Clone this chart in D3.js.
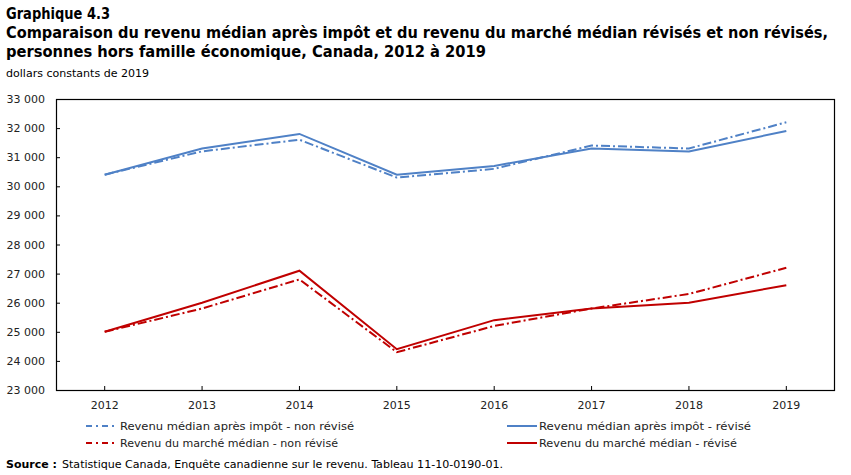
<!DOCTYPE html>
<html><head><meta charset="utf-8">
<script src="https://cdn.jsdelivr.net/npm/d3@7"></script>
<style>
body{margin:0;background:#fff;}
svg{display:block;font-family:"DejaVu Sans",Verdana,sans-serif;}
</style></head>
<body><svg id="c" width="851" height="475"></svg>
<script>
const years = ["2012","2013","2014","2015","2016","2017","2018","2019"];
const apresImpotNonRevise = [30400,31200,31600,30300,30600,31400,31300,32200];
const apresImpotRevise    = [30400,31300,31800,30400,30700,31300,31200,31900];
const marcheNonRevise     = [25000,25800,26800,24300,25200,25800,26300,27200];
const marcheRevise        = [25000,26000,27100,24400,25400,25800,26000,26600];
const yTicks = [23000,24000,25000,26000,27000,28000,29000,30000,31000,32000,33000];
const seriesNames = [
  "Revenu médian après impôt  - non révisé",
  "Revenu médian après impôt  - révisé",
  "Revenu du marché médian - non révisé",
  "Revenu du marché médian - révisé"
];
const titleLines = [
  "Graphique 4.3",
  "Comparaison du revenu médian après impôt et du revenu du marché médian révisés et non révisés,",
  "personnes hors famille économique, Canada, 2012 à 2019"
];
const unitLabel = "dollars constants de 2019";
const sourceText = "Statistique Canada, Enquête canadienne sur le revenu. Tableau 11-10-0190-01.";

const BLUE = "#4f81c6", RED = "#c00000", DASH = "9,3,2,3";
const series = [
  {name: seriesNames[0], values: apresImpotNonRevise, color: BLUE, dash: DASH},
  {name: seriesNames[1], values: apresImpotRevise, color: BLUE, dash: null},
  {name: seriesNames[2], values: marcheNonRevise, color: RED, dash: DASH},
  {name: seriesNames[3], values: marcheRevise, color: RED, dash: null}
];

const svg = d3.select("#c");
const L = 56, R = 835, T = 99, B = 390;
const x = d3.scaleBand().domain(years).range([L, R]);
const y = d3.scaleLinear().domain([23000, 33000]).range([B, T]);
const fmt = d => d3.format(",")(d).replace(/,/g, "\u00a0");

// titles
const tg = svg.append("g").attr("font-family", "'DejaVu Sans Condensed','DejaVu Sans',sans-serif")
  .attr("font-weight", "bold").attr("font-size", 15).attr("fill", "#000");
const tw = [104, 822, 480];
titleLines.forEach((t, i) => {
  const el = tg.append("text").attr("x", 6).attr("y", 19 + i * 19).text(t);
  if (tw[i]) el.attr("textLength", tw[i]).attr("lengthAdjust", "spacingAndGlyphs");
});
svg.append("text").attr("x", 6).attr("y", 77).attr("font-size", 10.5)
  .attr("font-family", "'DejaVu Sans Condensed','DejaVu Sans',sans-serif")
  .attr("textLength", 143).attr("lengthAdjust", "spacingAndGlyphs").text(unitLabel);

// axes
const yAxis = d3.axisLeft(y).tickValues(yTicks).tickFormat(fmt).tickSize(-4).tickPadding(11);
const gy = svg.append("g").attr("transform", `translate(${L},0)`).call(yAxis);
const xAxis = d3.axisBottom(x).tickSize(-4).tickPadding(11);
const gx = svg.append("g").attr("transform", `translate(0,${B})`).call(xAxis);
[gy, gx].forEach(g => {
  g.selectAll("text").attr("font-size", 11).attr("fill", "#222").attr("font-family", "'DejaVu Sans',Verdana,sans-serif");
  g.selectAll("line").attr("stroke", "#000");
  g.select(".domain").remove();
});
svg.append("rect").attr("x", L + 0.5).attr("y", T + 0.5).attr("width", R - L - 1).attr("height", B - T)
  .attr("fill", "none").attr("stroke", "#000").attr("stroke-width", 1.2);

// lines
const line = d3.line().x((d, i) => x(years[i]) + x.bandwidth() / 2).y(d => y(d));
series.forEach(s => {
  svg.append("path").datum(s.values).attr("d", line).attr("fill", "none")
    .attr("stroke", s.color).attr("stroke-width", 2)
    .attr("stroke-dasharray", s.dash);
});

// legend
const lg = svg.append("g").attr("font-size", 11).attr("fill", "#222")
  .attr("font-family", "'DejaVu Sans Condensed','DejaVu Sans',sans-serif");
const pos = [[86, 426], [507, 426], [86, 443], [507, 443]];
const tl = [234, 212, 218, 198];
series.forEach((s, i) => {
  const [px, py] = pos[i];
  const w = s.dash ? 28 : 30;
  lg.append("line").attr("x1", px).attr("x2", px + w).attr("y1", py).attr("y2", py)
    .attr("stroke", s.color).attr("stroke-width", 2).attr("stroke-dasharray", s.dash ? "6,4,2,4" : null);
  lg.append("text").attr("x", px + w + (s.dash ? 6 : 2)).attr("y", py + 4).text(s.name)
    .attr("textLength", tl[i]).attr("lengthAdjust", "spacingAndGlyphs");
});

// source
svg.append("text").attr("x", 6).attr("y", 468).attr("font-size", 11).attr("fill", "#000")
  .attr("font-weight", "bold").attr("font-family", "'DejaVu Sans',sans-serif").text("Source :");
svg.append("text").attr("x", 62).attr("y", 468).attr("font-size", 11).attr("fill", "#000")
  .attr("font-family", "'DejaVu Sans Condensed','DejaVu Sans',sans-serif")
  .attr("textLength", 441).attr("lengthAdjust", "spacingAndGlyphs").text(sourceText);
</script></body></html>
